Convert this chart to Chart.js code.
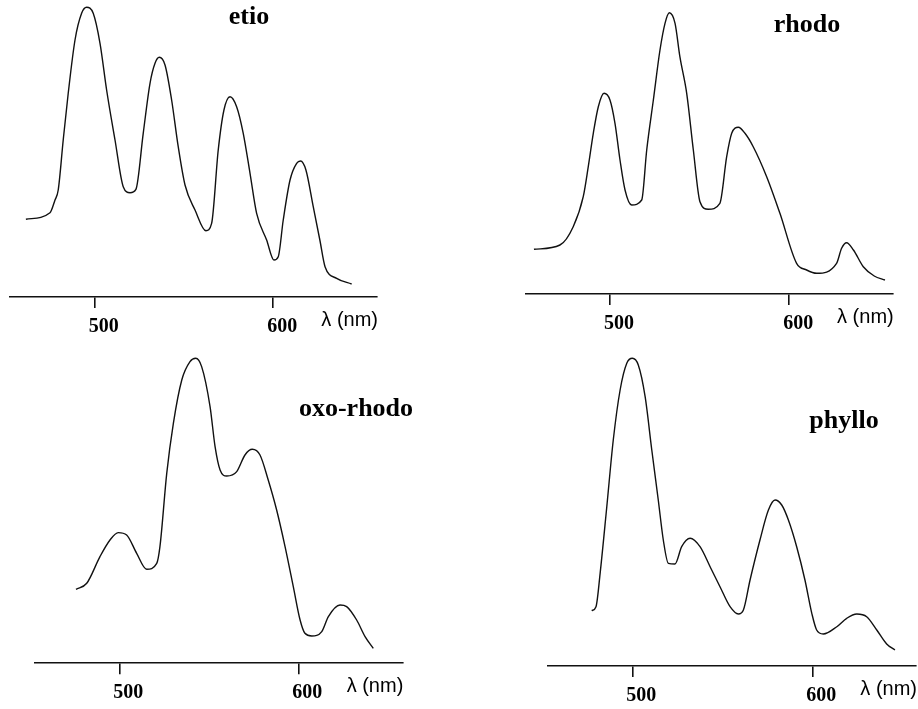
<!DOCTYPE html>
<html>
<head>
<meta charset="utf-8">
<script src="https://cdn.jsdelivr.net/npm/chart.js@4.4.1/dist/chart.umd.min.js"></script>
<style>
  body { margin: 0; background: #fff; }
  #fig { position: relative; width: 918px; height: 709px; background: #fff; }
  #fig canvas { position: absolute; }
</style>
</head>
<body>
<div id="fig"></div>
<script>
// absorption spectra, wavelength (nm) and relative absorbance (arbitrary units)

const ETIO_NM = [461.5, 475, 477.8, 479.6, 482.4, 485.2, 489, 492.7, 495.5, 499.2,
  503, 506.7, 511.4, 516, 519.8, 523.1, 527.2, 531, 533.8, 536.2,
  539.4, 543.1, 546.8, 550.6, 556.2, 562.3, 565.5, 569.2, 572.4, 575.8,
  579.5, 583.2, 587, 590.7, 596.3, 600.4, 602.8, 605.6, 609.4, 613.1,
  615.3, 618.3, 622.4, 626.1, 629, 635.5, 643.9];
const ETIO_ABS = [77.7, 84.3, 97, 107, 157, 203.7, 257, 283.7, 289.7, 283.7,
  253.7, 207, 157, 110.3, 104.3, 107.7, 163.7, 213.7, 233.7, 239.7,
  232, 197, 150.3, 112, 87, 66.3, 73.7, 147, 187, 200.3,
  190.3, 163.7, 123.7, 83.7, 57, 37, 40.3, 77, 117, 133.7,
  136, 127, 90.3, 57, 30.3, 18.7, 13];

const RHODO_NM = [457.6, 472.1, 479.5, 485.1, 487.9, 490.7, 493.5, 496.7, 500, 502.8,
  505.6, 508.4, 512.1, 517.7, 520.5, 524.2, 527.9, 530.7, 533.1, 536.3,
  539, 542.8, 546.5, 550.2, 554.8, 561.3, 565.1, 567.9, 571.6, 575.3,
  579.9, 587.4, 594.8, 604.1, 609.7, 615.3, 626.4, 629.2, 632, 635.8,
  641.3, 647.4, 653.4];
const RHODO_ABS = [44.7, 49, 67.3, 97.3, 127.3, 160.7, 187.3, 200.7, 194, 170.7,
  134, 104, 89, 94, 144, 194, 244, 270.7, 281.3, 270.7,
  237.3, 200.7, 144, 92.3, 84.7, 90.7, 137.3, 160.7, 166.7, 160.7,
  147.3, 117.3, 80.7, 30.7, 24, 20.7, 30.7, 45.7, 51.3, 44,
  27.3, 18, 14];

const OXO_NM = [475.8, 481.8, 489.2, 494.8, 499.4, 504.1, 509.7, 515.3, 520.9, 522.7,
  526.5, 530.2, 534.9, 539.5, 542.7, 546, 550.7, 553.5, 556.3, 560,
  565.6, 570.2, 574.3, 578.6, 583.2, 587.9, 592.6, 597.2, 601, 603.7,
  607.5, 613.1, 616.8, 623.3, 627, 632.6, 637.3, 641.9];
const OXO_ABS = [74, 80, 106.7, 123.3, 130.7, 128.3, 110, 94, 100, 116.7,
  190, 240, 283.3, 301.7, 305, 296.7, 256.7, 216.7, 193.3, 187.3,
  191.7, 208.3, 214, 208.3, 183.3, 153.3, 116.7, 76.7, 43.3, 30,
  27.3, 31.7, 46.7, 58.3, 56.7, 43.3, 26.7, 15];

const PHYLLO_NM = [477.4, 479.8, 482.1, 485.8, 489.4, 493.2, 496.9, 500, 503.3, 507.1,
  510.8, 514.4, 517.2, 520, 523.7, 527.4, 532.1, 537.6, 543.2, 548.7,
  554.3, 558.9, 561.7, 565.4, 570.9, 575.6, 579.3, 583, 586.7, 591.3,
  595.9, 599.7, 602.4, 606.1, 613.6, 619.1, 624.7, 630.2, 635.8, 641.3,
  645.9];
const PHYLLO_ABS = [55.3, 59.3, 92.7, 159.3, 226, 276, 302.7, 307.7, 301, 269.3,
  216, 166, 126, 102.7, 102, 119.3, 127.7, 119.3, 99.3, 79.3,
  59.3, 52, 56, 86, 126, 156, 166, 161, 146, 119.3,
  86, 52.7, 36, 32, 39.3, 47.7, 52, 49.3, 36, 22,
  16];

const TICKS = [500, 600];
const AXIS_LABEL = "λ (nm)";

const SPECTRA = [
  { title: "etio", nm: ETIO_NM, abs: ETIO_ABS },
  { title: "rhodo", nm: RHODO_NM, abs: RHODO_ABS },
  { title: "oxo-rhodo", nm: OXO_NM, abs: OXO_ABS },
  { title: "phyllo", nm: PHYLLO_NM, abs: PHYLLO_ABS }
];

// где стоит каждая панель на странице
const PANELS = [
  { left: 0,   top: 0,   width: 459, height: 342, areaLeft: 10,    areaRight: 377,   axisY: 297,   xMin: 452.6, xMax: 658.1, titleX: 249, titleY: 24 },
  { left: 459, top: 0,   width: 459, height: 342, areaLeft: 525.7, areaRight: 892.7, axisY: 294,   xMin: 453.0, xMax: 657.7, titleX: 807, titleY: 32 },
  { left: 0,   top: 342, width: 459, height: 367, areaLeft: 35,    areaRight: 402.3, axisY: 663.3, xMin: 452.9, xMax: 658.1, titleX: 356, titleY: 416 },
  { left: 459, top: 342, width: 459, height: 367, areaLeft: 548.3, areaRight: 916,   axisY: 666,   xMin: 453.3, xMax: 657.6, titleX: 844, titleY: 428 }
];
const AXIS_H = 40;

function drawPanel(spec, p) {
  const canvas = document.createElement("canvas");
  canvas.width = p.width;
  canvas.height = p.height;
  canvas.style.left = p.left + "px";
  canvas.style.top = p.top + "px";
  document.getElementById("fig").appendChild(canvas);

  const panelText = {
    id: "panelText",
    afterDraw(chart) {
      const ctx = chart.ctx;
      const xs = chart.scales.x;
      ctx.save();
      ctx.fillStyle = "#000";
      ctx.textBaseline = "alphabetic";
      ctx.font = "bold 26px 'Liberation Serif'";
      ctx.textAlign = "center";
      ctx.fillText(spec.title, p.titleX - p.left, p.titleY - p.top);
      ctx.font = "20px 'Liberation Sans'";
      ctx.textAlign = "right";
      ctx.fillText(AXIS_LABEL, xs.right + 1, xs.top + 29);
      ctx.restore();
    }
  };

  new Chart(canvas, {
    type: "line",
    data: {
      datasets: [{
        data: spec.nm.map((x, i) => ({ x, y: spec.abs[i] })),
        borderColor: "#111",
        borderWidth: 1.4,
        pointRadius: 0,
        cubicInterpolationMode: "monotone",
        fill: false
      }]
    },
    options: {
      responsive: false,
      animation: false,
      devicePixelRatio: 1,
      layout: {
        padding: {
          left: p.areaLeft - p.left,
          right: p.left + p.width - p.areaRight,
          top: 0,
          bottom: p.top + p.height - p.axisY - AXIS_H
        }
      },
      plugins: { legend: { display: false }, tooltip: { enabled: false } },
      scales: {
        x: {
          type: "linear",
          min: p.xMin,
          max: p.xMax,
          afterBuildTicks: (s) => { s.ticks = TICKS.map(v => ({ value: v })); },
          afterFit: (s) => { s.height = AXIS_H; },
          grid: { drawOnChartArea: false, drawTicks: true, tickLength: 11, color: "#111", lineWidth: 1.6 },
          border: { display: true, color: "#111", width: 1.6 },
          ticks: {
            color: "#000",
            font: { family: "'Liberation Serif'", size: 20, weight: "bold" },
            padding: 7,
            labelOffset: 9,
            maxRotation: 0,
            autoSkip: false
          }
        },
        y: { display: false, min: 0, max: p.axisY - p.top }
      }
    },
    plugins: [panelText]
  });
}

SPECTRA.forEach((spec, i) => drawPanel(spec, PANELS[i]));
</script>
</body>
</html>
